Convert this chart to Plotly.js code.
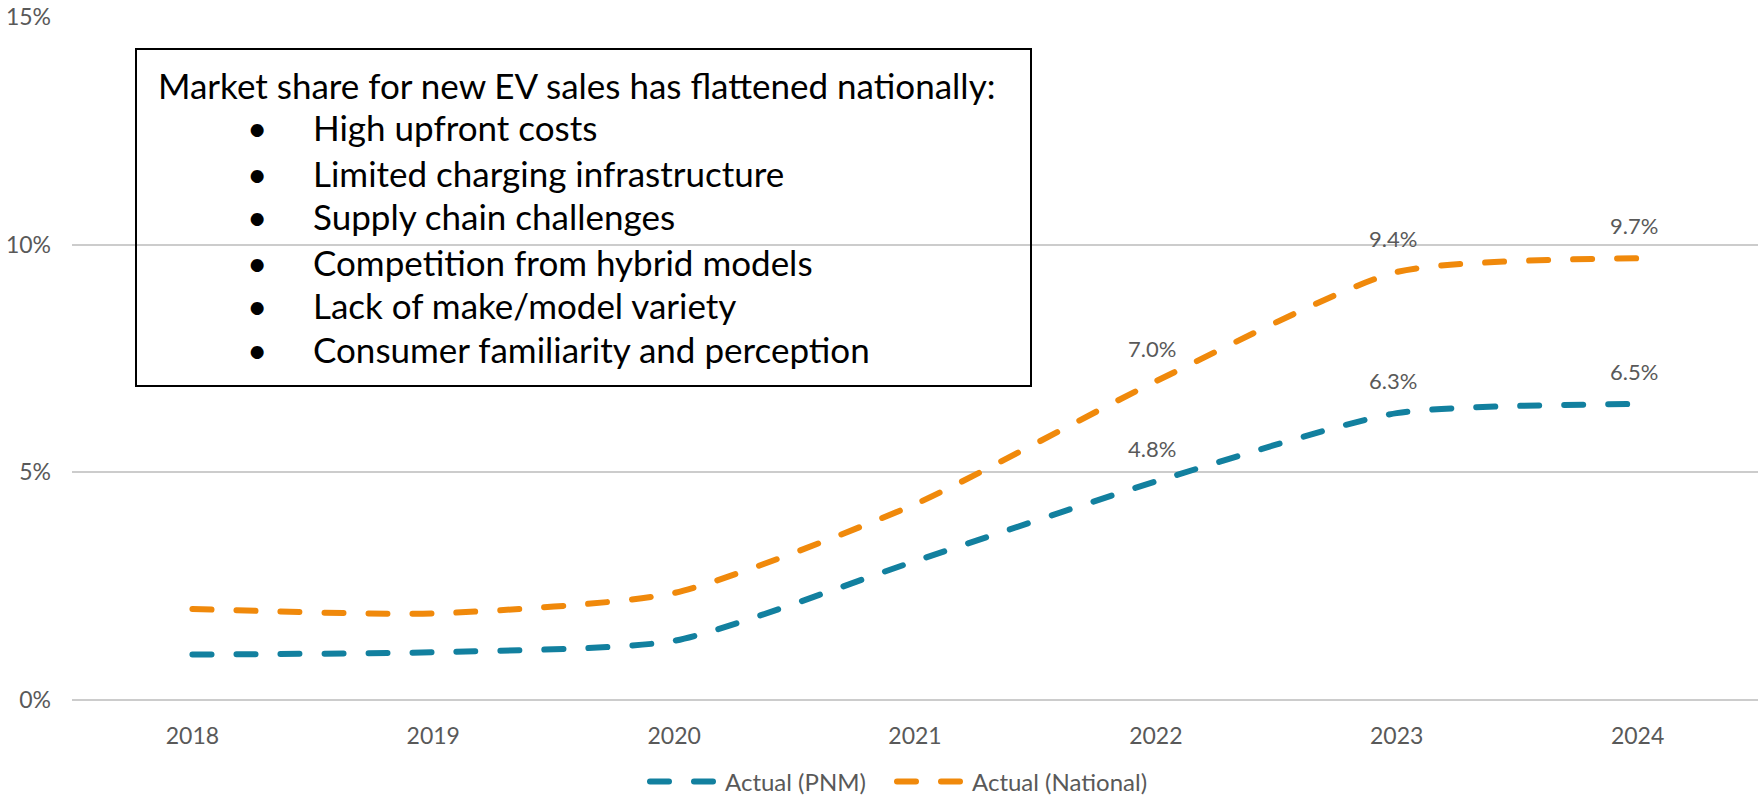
<!DOCTYPE html>
<html>
<head>
<meta charset="utf-8">
<script src="https://cdn.plot.ly/plotly-3.0.1.min.js"></script>
<style>
  html, body { margin: 0; padding: 0; background: #ffffff; }
  #chart { width: 1760px; height: 798px; }
</style>
</head>
<body>
<div id="chart"></div>
<script>
// ---- Data ----
const years = ["2018", "2019", "2020", "2021", "2022", "2023", "2024"];
const pnmValues = [0.010, 0.0105, 0.013, 0.0305, 0.048, 0.063, 0.065];
const nationalValues = [0.020, 0.019, 0.0235, 0.043, 0.070, 0.094, 0.097];
const seriesNames = ["Actual (PNM)", "Actual (National)"];
const labelledYears = ["2022", "2023", "2024"];
const yTickValues = [0, 0.05, 0.10, 0.15];
const yTickLabels = ["0%", "5%", "10%", "15%"];
const boxHeading = "Market share for new EV sales has flattened nationally:";
const boxBullets = [
  "High upfront costs",
  "Limited charging infrastructure",
  "Supply chain challenges",
  "Competition from hybrid models",
  "Lack of make/model variety",
  "Consumer familiarity and perception"
];

// ---- Styling ----
const BLUE = "#12809f";
const ORANGE = "#f0890b";
const GRAY = "#595959";
const FONT = "Lato, 'Open Sans', sans-serif";

// plot area in pixels (full 1760x798 canvas)
const W = 1760, H = 798;
const L = 72, R = 2, T = 17, B = 98;
const PW = W - L - R, PH = H - T - B;
const px = x => (x - L) / PW;         // pixel x -> paper
const py = y => (H - B - y) / PH;     // pixel y -> paper

const lineStyle = color => ({ color: color, width: 6, dash: "19px,25px", shape: "spline", smoothing: 0.6 });

const traces = [
  { x: years, y: pnmValues, name: seriesNames[0], type: "scatter", mode: "lines",
    line: lineStyle(BLUE), hoverinfo: "x+y", legend: "legend" },
  { x: years, y: nationalValues, name: seriesNames[1], type: "scatter", mode: "lines",
    line: lineStyle(ORANGE), hoverinfo: "x+y", legend: "legend2" }
];

const annotations = [];
// data labels (x given as category index)
[pnmValues, nationalValues].forEach(vals => {
  years.forEach((yr, i) => {
    if (labelledYears.indexOf(yr) >= 0) {
      annotations.push({
        x: i, y: vals[i], xref: "x", yref: "y",
        text: (vals[i] * 100).toFixed(1) + "%",
        showarrow: false, yshift: 33, xshift: -4,
        font: { family: FONT, size: 22, color: GRAY }
      });
    }
  });
});
// text box contents
const lineYs = [85, 127, 173, 216, 262, 305, 349];
const BOXFONT = 35;
annotations.push({
  x: px(156), y: py(lineYs[0]), xref: "paper", yref: "paper",
  xanchor: "left", yanchor: "middle", showarrow: false,
  text: boxHeading, font: { family: FONT, size: BOXFONT, color: "#000000" }
});
boxBullets.forEach((b, i) => {
  annotations.push({
    x: px(257), y: py(lineYs[i + 1]), xref: "paper", yref: "paper",
    xanchor: "center", yanchor: "middle", showarrow: false,
    text: "•", font: { family: FONT, size: BOXFONT, color: "#000000" }
  });
  annotations.push({
    x: px(311), y: py(lineYs[i + 1]), xref: "paper", yref: "paper",
    xanchor: "left", yanchor: "middle", showarrow: false,
    text: b, font: { family: FONT, size: BOXFONT, color: "#000000" }
  });
});

const legendBase = {
  orientation: "h", yanchor: "middle", y: py(782), xanchor: "left",
  itemwidth: 70, font: { family: FONT, size: 24, color: GRAY },
  bgcolor: "rgba(0,0,0,0)"
};

const layout = {
  width: W, height: H,
  margin: { l: L, r: R, t: T, b: B, pad: 0, autoexpand: false },
  paper_bgcolor: "#ffffff", plot_bgcolor: "#ffffff",
  font: { family: FONT, size: 22, color: GRAY },
  showlegend: true,
  legend: Object.assign({}, legendBase, { x: px(645) }),
  legend2: Object.assign({}, legendBase, { x: px(892) }),
  xaxis: {
    type: "category", range: [-0.5, 6.5], showgrid: false, zeroline: false,
    showline: false, ticks: "", ticklabelstandoff: 20,
    tickfont: { family: FONT, size: 23, color: GRAY },
    fixedrange: true
  },
  yaxis: {
    range: [0, 0.15], tickvals: yTickValues, ticktext: yTickLabels,
    showgrid: true, gridcolor: "#cccccc", gridwidth: 2,
    zeroline: true, zerolinecolor: "#cccccc", zerolinewidth: 2,
    showline: false, ticks: "", ticklabelstandoff: 20,
    tickfont: { family: FONT, size: 23, color: GRAY }, fixedrange: true
  },
  shapes: [{
    type: "rect", xref: "paper", yref: "paper",
    x0: px(136), x1: px(1031), y0: py(386), y1: py(49),
    line: { color: "#000000", width: 2 }, fillcolor: "rgba(0,0,0,0)", layer: "above"
  }],
  annotations: annotations
};

Plotly.newPlot("chart", traces, layout, { displayModeBar: false, staticPlot: true }).then(gd => {
  gd.querySelectorAll("path.js-line").forEach(p => { p.style.strokeLinecap = "round"; });
});
</script>
</body>
</html>
